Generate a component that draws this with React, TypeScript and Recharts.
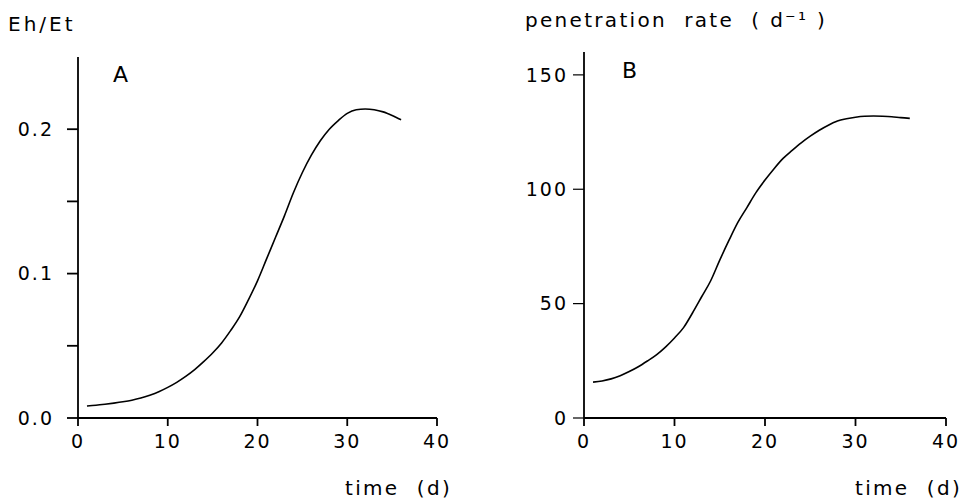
import React from 'react';
import { LineChart, Line, XAxis, YAxis } from 'recharts';

// time in days (shared by both panels)
const days = [1, 2, 3, 4, 5, 6, 7, 8, 9, 10, 11, 12, 13, 14, 15, 16, 17, 18, 19, 20, 21, 22, 23, 24, 25, 26, 27, 28, 29, 30, 31, 32, 33, 34, 35, 36];

// panel A: Eh/Et
const ehEt = [
  0.0083, 0.0088, 0.0095, 0.0103, 0.0112, 0.0123, 0.0138, 0.0158, 0.0182, 0.0212,
  0.0247, 0.0288, 0.0335, 0.039, 0.045, 0.052, 0.0605, 0.07, 0.082, 0.095,
  0.11, 0.125, 0.14, 0.156, 0.17, 0.182, 0.192, 0.2, 0.206, 0.211,
  0.2135, 0.214, 0.2135, 0.212, 0.2095, 0.2065,
];

// panel B: penetration rate (d-1)
const penRate = [
  15.7, 16.2, 17.1, 18.5, 20.3, 22.4, 24.9, 27.6, 31.0, 35.0,
  39.5, 46.0, 53.0, 60.0, 69.0, 77.5, 85.5, 92.0, 98.5, 104.0,
  109.0, 113.5, 117.0, 120.3, 123.2, 125.8, 128.0, 129.8, 130.8, 131.5,
  131.9, 132.0, 131.9, 131.7, 131.3, 131.0,
];

const xTicks = [0, 10, 20, 30, 40];
const yTicksA = [0, 0.05, 0.1, 0.15, 0.2];
const yTicksB = [0, 50, 100, 150];

const dataA = days.map((t, i) => ({ t, v: ehEt[i] }));
const dataB = days.map((t, i) => ({ t, v: penRate[i] }));

const font = '"DejaVu Sans", sans-serif';
const tickStyle = { fill: '#000', fontSize: 19, fontFamily: font, letterSpacing: 2 };
const axisLine = { stroke: '#000', strokeWidth: 1.8 };

export default function App() {
  return (
    <div style={{ position: 'absolute', left: 0, top: 0, width: 962, height: 504, background: '#fff' }}>
      <div style={{ position: 'absolute', left: 0, top: 0 }}>
        <LineChart width={480} height={504} data={dataA} margin={{ top: 57, right: 43, bottom: 46, left: 0 }}>
          <XAxis
            dataKey="t" type="number" domain={[0, 40]} ticks={xTicks} allowDataOverflow
            axisLine={axisLine} tickLine={axisLine} tickSize={8} tickMargin={9}
            tick={tickStyle} height={40} interval={0}
          />
          <YAxis
            type="number" domain={[0, 0.25]} ticks={yTicksA} allowDataOverflow
            axisLine={axisLine} tickLine={axisLine} tickSize={11} tickMargin={13}
            tick={tickStyle} width={78} interval={0}
            tickFormatter={(v: number) => (Math.abs((v * 100) % 10) > 1e-6 ? '' : v.toFixed(1))}
          />
          <Line dataKey="v" type="monotone" stroke="#000" strokeWidth={1.6} dot={false} isAnimationActive={false} />
        </LineChart>
      </div>
      <div style={{ position: 'absolute', left: 480, top: 0 }}>
        <LineChart width={482} height={504} data={dataB} margin={{ top: 52, right: 16, bottom: 46, left: 0 }}>
          <XAxis
            dataKey="t" type="number" domain={[0, 40]} ticks={xTicks} allowDataOverflow
            axisLine={axisLine} tickLine={axisLine} tickSize={8} tickMargin={9}
            tick={tickStyle} height={40} interval={0}
          />
          <YAxis
            type="number" domain={[0, 160]} ticks={yTicksB} allowDataOverflow
            axisLine={axisLine} tickLine={{ stroke: '#000', strokeWidth: 1.2 }} tickSize={11} tickMargin={5}
            tick={tickStyle} width={104} interval={0}
          />
          <Line dataKey="v" type="monotone" stroke="#000" strokeWidth={1.6} dot={false} isAnimationActive={false} />
        </LineChart>
      </div>
      <svg width={962} height={504} style={{ position: 'absolute', left: 0, top: 0, pointerEvents: 'none' }}>
        <g fontFamily={font} fill="#000" fontSize={20} letterSpacing={2.3}>
          <text x={8} y={31} letterSpacing={3}>Eh/Et</text>
          <text x={113} y={82} fontSize={22}>A</text>
          <text x={452} y={495} textAnchor="end" xmlSpace="preserve">time  (d)</text>
          <text x={525} y={27} xmlSpace="preserve">penetration  rate  ( d⁻¹ )</text>
          <text x={622} y={78} fontSize={22}>B</text>
          <text x={962} y={495} textAnchor="end" xmlSpace="preserve">time  (d)</text>
        </g>
      </svg>
    </div>
  );
}
